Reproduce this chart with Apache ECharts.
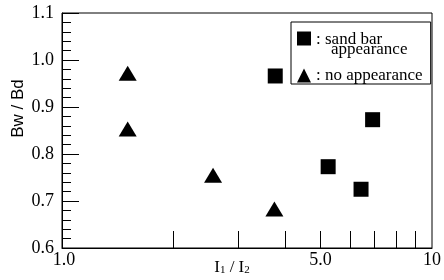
<!DOCTYPE html>
<html>
<head>
<meta charset="utf-8">
<script src="https://cdn.jsdelivr.net/npm/echarts@6/dist/echarts.min.js"></script>
<style>
  html, body { margin: 0; padding: 0; background: #fff; }
  #main { width: 444px; height: 280px; }
</style>
</head>
<body>
<div id="main"></div>
<script>
// data
var sandBar = [[3.77, 0.966], [5.24, 0.773], [6.43, 0.725], [6.91, 0.873]];
var noAppear = [[1.505, 0.972], [1.505, 0.853], [2.56, 0.755], [3.75, 0.683]];
var xTickValues = [2, 3, 4, 5, 6, 7, 8, 9];
var xLabelValues = [1, 5, 10];
var yMin = 0.6, yMax = 1.1, yStep = 0.1;

var serif = "Liberation Serif";
var sans = "Liberation Sans";

var myChart = echarts.init(document.getElementById("main"));
myChart.setOption({
  animation: false,
  backgroundColor: "#fff",
  grid: {
    left: 62, right: 12, top: 13, bottom: 32,
    outerBoundsMode: "none",
    show: true, borderColor: "#000", borderWidth: 1
  },
  legend: {
    orient: "vertical",
    left: 291, top: 22,
    borderColor: "#000", borderWidth: 1,
    padding: [9, 8, 0, 6],
    itemGap: 9,
    itemWidth: 14, itemHeight: 14,
    data: [
      {
        name: "sand bar appearance", icon: "rect", itemStyle: { opacity: 1 },
        textStyle: { padding: [12, 0, 0, 0] }
      },
      { name: "no appearance", icon: "triangle", itemStyle: { opacity: 1 } }
    ],
    formatter: function (name) {
      if (name === "sand bar appearance") return "{a|: sand bar}\n{b|appearance}";
      return "{c|: no appearance}";
    },
    textStyle: {
      color: "#000", fontFamily: serif, fontSize: 17,
      rich: {
        a: { fontFamily: serif, fontSize: 17, lineHeight: 10, color: "#000" },
        b: { fontFamily: serif, fontSize: 17, lineHeight: 10, color: "#000", padding: [0, 0, 0, 15] },
        c: { fontFamily: serif, fontSize: 17, color: "#000" }
      }
    }
  },
  xAxis: {
    type: "log",
    logBase: 10,
    min: 1, max: 10,
    name: "{i|I}{s|1}{i| / I}{s|2}",
    nameLocation: "middle",
    nameGap: 11,
    nameMoveOverlap: false,
    nameTextStyle: {
      padding: [0, 30, 0, 0],
      rich: {
        i: { fontFamily: serif, fontSize: 17, color: "#000" },
        s: { fontFamily: serif, fontSize: 11, color: "#000", verticalAlign: "bottom", padding: [6, 0, 0, 0] }
      }
    },
    axisLine: { lineStyle: { color: "#000", width: 1 } },
    axisTick: { inside: true, length: 17, customValues: xTickValues, lineStyle: { color: "#000" } },
    axisLabel: {
      customValues: xLabelValues,
      margin: 3,
      color: "#000", fontFamily: serif, fontSize: 18,
      formatter: function (v) {
        if (v === 1) return "{f|1.0}";
        if (v === 10) return "10";
        return v.toFixed(1);
      },
      rich: { f: { fontFamily: serif, fontSize: 18, color: "#000", padding: [0, 0, 0, 4] } }
    },
    splitLine: { show: false }
  },
  yAxis: {
    type: "value",
    min: yMin, max: yMax, interval: yStep,
    name: "Bw / Bd",
    nameLocation: "middle",
    nameGap: 35,
    nameMoveOverlap: false,
    nameTextStyle: { fontFamily: sans, fontSize: 17, color: "#000", padding: [0, 0, 0, 44] },
    axisLine: { show: true, lineStyle: { color: "#000", width: 1 } },
    axisTick: { inside: true, length: 17, lineStyle: { color: "#000" } },
    minorTick: { show: true, splitNumber: 5, length: 9, lineStyle: { color: "#000" } },
    axisLabel: {
      margin: 8, color: "#000", fontFamily: serif, fontSize: 18,
      formatter: function (v) { return v.toFixed(1); }
    },
    splitLine: { show: false }
  },
  series: [
    {
      name: "sand bar appearance",
      type: "scatter",
      symbol: "rect",
      symbolSize: 15,
      itemStyle: { color: "#000", opacity: 1 },
      data: sandBar
    },
    {
      name: "no appearance",
      type: "scatter",
      symbol: "triangle",
      symbolSize: [18, 15],
      itemStyle: { color: "#000", opacity: 1 },
      data: noAppear
    }
  ]
});
</script>
</body>
</html>
